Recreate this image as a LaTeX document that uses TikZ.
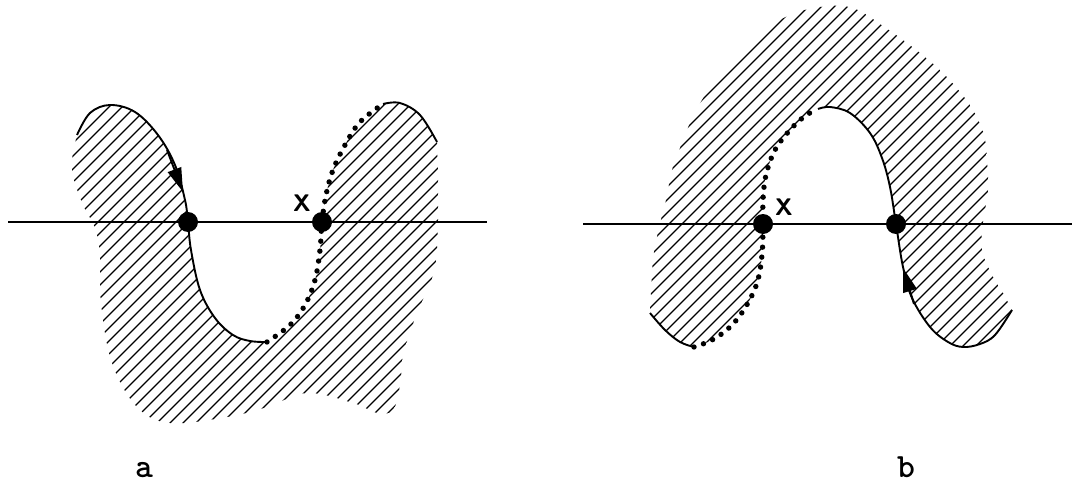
\documentclass[tikz,border=0pt]{standalone}
\usetikzlibrary{arrows.meta}
\begin{document}
\begin{tikzpicture}[x=1pt,y=-1pt,
  curve/.style={line width=1.9pt},
  dotcurve/.style={line width=5.4pt, line cap=round, dash pattern=on 0pt off 10pt},
  hatchline/.style={line width=1.3pt},
  axis/.style={line width=1.8pt},
  bigdot/.style={circle, fill=black, inner sep=0pt, minimum size=20pt},
  xlabel/.style={font=\sffamily\bfseries\fontsize{24}{24}\selectfont, inner sep=0pt},
  sublabel/.style={font=\ttfamily\bfseries\fontsize{34}{34}\selectfont, inner sep=0pt, anchor=base},
  arrowtip/.style={-{Triangle[length=24pt,width=14pt]}, line width=1.9pt},
  sm/.style={smooth,tension=0.6}]
\useasboundingbox (0,0) rectangle (1076,484);

% ---------------- figure a ----------------
\begin{scope}
  \clip plot[sm] coordinates {(77,135) (90,113) (110,105) (135,112) (158,135) (175,165) (185,200) (188,222) (191,250) (200,290) (215,318) (233,335) (250,341) (267,342)}
     -- plot[sm] coordinates {(267,342) (290,325) (305,305) (315,280) (320,250) (322,222) (326,195) (333,170) (345,145) (360,122) (383,104)}
     -- plot[sm] coordinates {(383,104) (400,103) (420,115) (437,142)}
     -- plot[sm] coordinates {(437,142) (438,180) (438,222) (436,260) (430,284) (418,310) (410,333) (403,355) (400,385) (393,410) (377,413) (353,403) (307,393) (267,407) (227,417) (170,423) (137,407) (112,363) (101,303) (100,255) (95,228) (84,207) (74,180) (72,160) (77,135)}
     -- cycle;
  \foreach \c in {-420,-407,...,450} \draw[hatchline] (\c,480) -- ++(480,-480);
\end{scope}

\coordinate (aL) at (8,222);
\coordinate (aR) at (487,222);
\draw[axis] (aL) -- (aR);
\draw[curve] plot[sm] coordinates {(77,135) (90,113) (110,105) (135,112) (158,135) (175,165) (185,200) (188,222) (191,250) (200,290) (215,318) (233,335) (250,341) (267,342)};
\draw[dotcurve] plot[sm] coordinates {(267,342) (290,325) (305,305) (315,280) (320,250) (322,222) (326,195) (333,170) (345,145) (360,122) (383,104)};
\draw[curve] plot[sm] coordinates {(383,104) (400,103) (420,115) (437,142)};
\coordinate (aArS) at (167,150);
\coordinate (aArE) at (183,192);
\draw[arrowtip] (aArS) -- (aArE);
\node[bigdot] (a1) at (188,222) {};
\node[bigdot] (a2) at (322,222) {};
\node[xlabel] (ax) at (302,203) {X};
\node[sublabel] (la) at (144,477) {a};

% ---------------- figure b ----------------
\begin{scope}
  \clip plot[sm] coordinates {(650,313) (665,330) (680,342) (694,347)}
     -- plot[sm] coordinates {(694,347) (712,340) (730,327) (745,308) (757,283) (762,255) (763,224) (763,200) (766,175) (775,150) (790,130) (805,116) (818,109)}
     -- plot[sm] coordinates {(818,109) (830,107) (850,113) (870,133) (882,158) (890,187) (896,224) (903,267) (912,298) (930,327) (948,342) (963,347) (980,344) (995,335) (1012,310)}
     -- plot[sm] coordinates {(1012,310) (1003,293) (992,275) (982,250) (983,222) (988,190) (987,160) (984,135) (973,110) (960,92) (943,73) (925,57) (903,40) (880,24) (860,11) (843,6) (820,7) (795,13) (772,25) (748,45) (722,73) (702,100) (690,123) (680,148) (672,170) (666,200) (659,228) (653,260) (650,313)}
     -- cycle;
  \foreach \c in {140,153,...,1030} \draw[hatchline] (\c,480) -- ++(480,-480);
\end{scope}

\coordinate (bL) at (583,224);
\coordinate (bR) at (1072,224);
\draw[axis] (bL) -- (bR);
\draw[curve] plot[sm] coordinates {(650,313) (665,330) (680,342) (694,347)};
\draw[dotcurve] plot[sm] coordinates {(694,347) (712,340) (730,327) (745,308) (757,283) (762,255) (763,224) (763,200) (766,175) (775,150) (790,130) (805,116) (818,109)};
\draw[curve] plot[sm] coordinates {(818,109) (830,107) (850,113) (870,133) (882,158) (890,187) (896,224) (903,267) (912,298) (930,327) (948,342) (963,347) (980,344) (995,335) (1012,310)};
\coordinate (bArS) at (914,304);
\coordinate (bArE) at (903,268);
\draw[arrowtip] (bArS) -- (bArE);
\node[bigdot] (b1) at (763,224) {};
\node[bigdot] (b2) at (896,224) {};
\node[xlabel] (bx) at (784,207) {X};
\node[sublabel] (lb) at (906,477) {b};
\end{tikzpicture}
\end{document}
